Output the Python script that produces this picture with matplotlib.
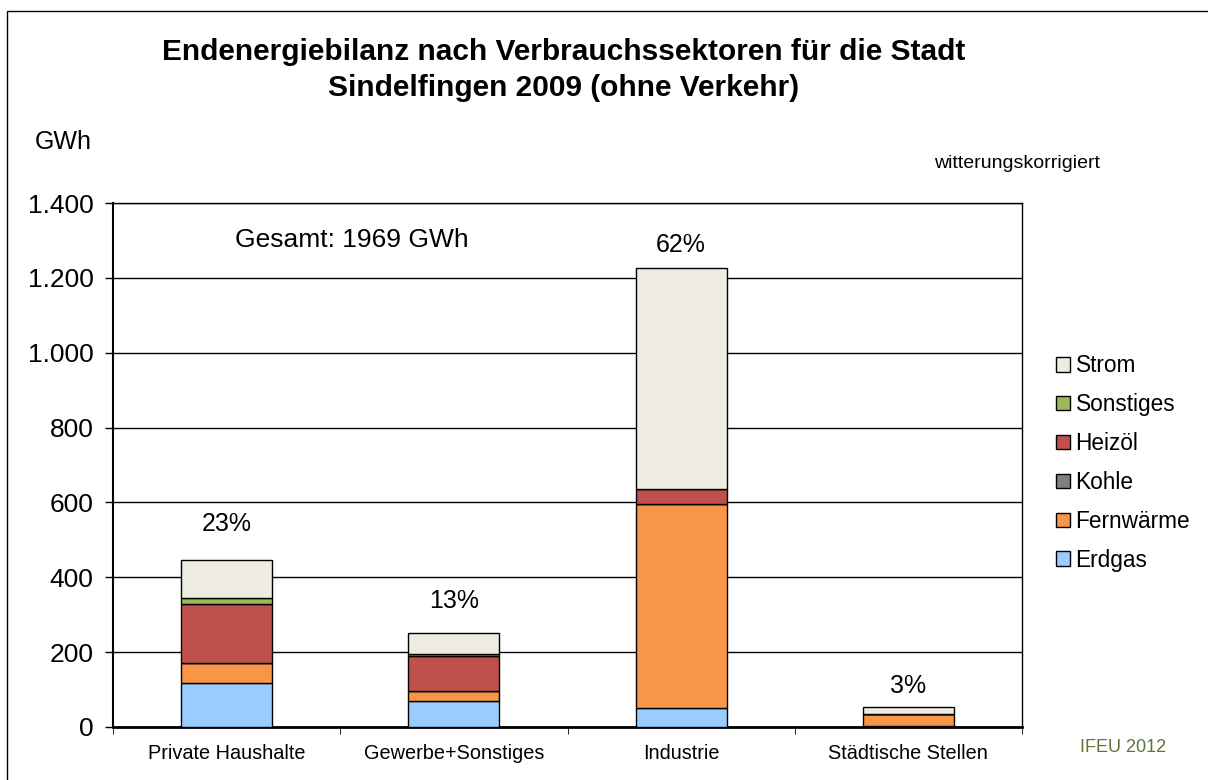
import matplotlib
matplotlib.use('Agg')
import matplotlib.pyplot as plt
from matplotlib.patches import Rectangle
import numpy as np

plt.rcParams['font.family'] = ['Liberation Sans', 'DejaVu Sans']

# data (GWh)
sektoren = ['Private Haushalte', 'Gewerbe+Sonstiges', 'Industrie', 'Städtische Stellen']
erdgas = [117, 69, 51, 3]
fernwaerme = [54, 27, 546, 32]
kohle = [1, 1, 0, 0]
heizoel = [156, 94, 40, 1]
sonstiges = [16, 3, 0, 0]
strom = [101, 57, 590, 17]
anteile = ['23%', '13%', '62%', '3%']

serien = [('Erdgas', erdgas, '#99ccff'),
          ('Fernwärme', fernwaerme, '#f79646'),
          ('Kohle', kohle, '#808080'),
          ('Heizöl', heizoel, '#c0504d'),
          ('Sonstiges', sonstiges, '#9bbb59'),
          ('Strom', strom, '#eeece1')]

fig = plt.figure(figsize=(12.08, 7.8), dpi=100)
ax = fig.add_axes([113/1208, 53/780, 909/1208, 524/780])

x = np.arange(len(sektoren))
unten = np.zeros(len(sektoren))
for name, werte, farbe in serien:
    ax.bar(x, werte, 0.4, bottom=unten, color=farbe, edgecolor='black',
           linewidth=1, label=name, zorder=3)
    unten += np.array(werte)

# labels were placed by hand in the original, so the gap varies a bit
abstand = [26, 23, 16.5, 15]
for i, txt in enumerate(anteile):
    ax.annotate(txt, (x[i], unten[i]), xytext=(0, abstand[i]), textcoords='offset points',
                ha='center', va='center', fontsize=18)

ax.set_xlim(-0.5, 3.5)
ax.set_ylim(0, 1400)
ax.set_yticks(np.arange(0, 1401, 200))
ax.set_yticklabels(['0', '200', '400', '600', '800', '1.000', '1.200', '1.400'], fontsize=19)
ax.grid(axis='y', color='black', linewidth=1, zorder=0)
ax.set_xticks(x)
ax.set_xticklabels(sektoren, fontsize=14.3)
ax.tick_params(axis='x', length=0, pad=12)
ax.set_xticks(np.arange(-0.5, 4, 1), minor=True)
ax.tick_params(axis='x', which='minor', length=5, direction='out')
ax.tick_params(axis='y', length=6, width=1, pad=8)
for s in ['top', 'right']:
    ax.spines[s].set_linewidth(1)
ax.spines['left'].set_linewidth(1.5)
ax.spines['bottom'].set_linewidth(2)

ax.text(0.55, 1300, 'Gesamt: 1969 GWh', fontsize=19, ha='center', va='center')

handles, labels = ax.get_legend_handles_labels()
leg = fig.legend(handles[::-1], labels[::-1], loc='center left',
                 bbox_to_anchor=(1036/1208, 1 - 463/780), frameon=False,
                 fontsize=16.3, handlelength=0.6, handleheight=0.6,
                 handletextpad=0.25, labelspacing=0.7)

fig.text(564/1208, 1 - 52/780, 'Endenergiebilanz nach Verbrauchssektoren für die Stadt',
         ha='center', va='center', fontsize=21.5, fontweight='bold')
fig.text(564/1208, 1 - 88/780, 'Sindelfingen 2009 (ohne Verkehr)',
         ha='center', va='center', fontsize=21.5, fontweight='bold')
fig.text(63/1208, 1 - 142/780, 'GWh', ha='center', va='center', fontsize=18)
fig.text(1017/1208, 1 - 163/780, 'witterungskorrigiert', ha='center', va='center', fontsize=14)
fig.text(1123/1208, 1 - 748/780, 'IFEU 2012', ha='center', va='center',
         fontsize=13, color='#5f7535')

fig.patches.append(Rectangle((7/1208, -0.1), 2, 1.1 - 11/780, transform=fig.transFigure,
                             fill=False, edgecolor='black', linewidth=1))

fig.savefig('out.png', dpi=100)
